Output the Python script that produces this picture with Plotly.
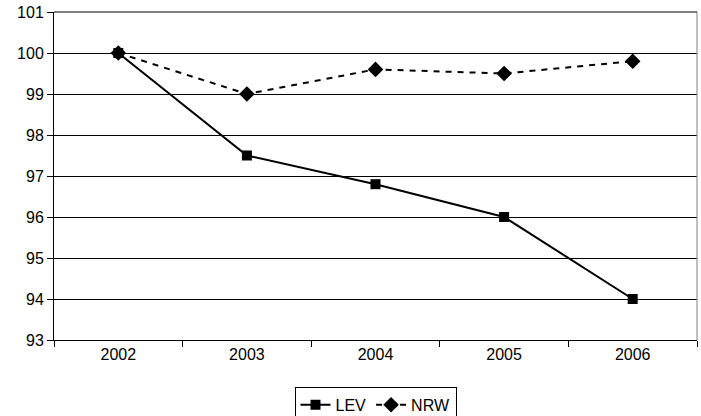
import plotly.graph_objects as go

years = ["2002", "2003", "2004", "2005", "2006"]
lev = [100.0, 97.5, 96.8, 96.0, 94.0]
nrw = [100.0, 99.0, 99.6, 99.5, 99.8]
y_ticks = [93, 94, 95, 96, 97, 98, 99, 100, 101]

fig = go.Figure()
fig.add_trace(go.Scatter(
    x=years, y=lev, name="LEV", mode="lines+markers",
    line=dict(color="black", width=2),
    marker=dict(symbol="square", size=10, color="black"),
))
fig.add_trace(go.Scatter(
    x=years, y=nrw, name="NRW", mode="lines+markers",
    line=dict(color="black", width=2, dash="6px,6px"),
    marker=dict(symbol="diamond", size=12, color="black"),
))

fig.update_layout(
    width=701, height=416,
    margin=dict(l=54, r=4, t=12, b=76, autoexpand=False),
    paper_bgcolor="white", plot_bgcolor="white",
    font=dict(family="Liberation Sans, Arial, sans-serif", size=16, color="black"),
    showlegend=True,
    legend=dict(
        orientation="h", x=0.5, xanchor="center", y=-0.143, yanchor="top",
        bordercolor="black", borderwidth=1, font=dict(size=16),
        tracegroupgap=0, itemwidth=30,
    ),
    xaxis=dict(
        type="category", range=[-0.5, 4.5], automargin=False,
        showgrid=False, showline=True, linecolor="black", linewidth=1,
        ticks="outside", tickson="boundaries", ticklen=6, tickcolor="black",
        zeroline=False,
    ),
    yaxis=dict(
        range=[93, 101], tickvals=y_ticks, automargin=False,
        showgrid=True, gridcolor="black", gridwidth=1,
        showline=True, linecolor="black", linewidth=1,
        ticks="outside", ticklen=6, tickcolor="black",
        zeroline=False,
    ),
    shapes=[
        dict(type="line", xref="paper", yref="paper", x0=1, x1=1, y0=0, y1=1,
             line=dict(color="#808080", width=1)),
        dict(type="line", xref="paper", yref="paper", x0=0, x1=1, y0=1, y1=1,
             line=dict(color="black", width=1)),
    ],
)

fig.write_html(
    "out.html",
    config={"displayModeBar": False},
    post_script="document.body.style.margin='0';document.body.style.overflow='hidden';",
)
